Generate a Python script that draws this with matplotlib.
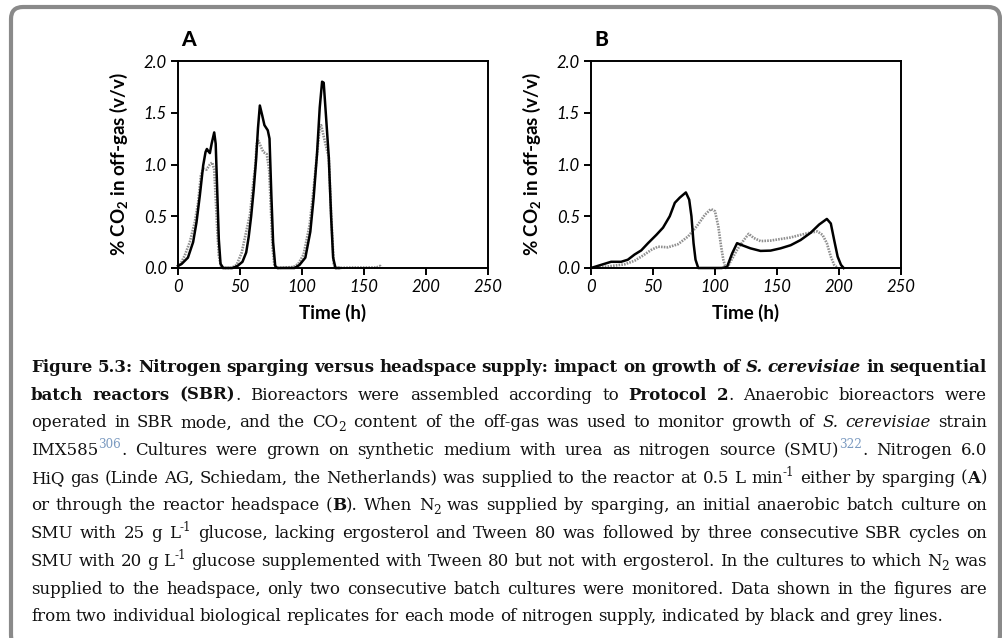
import matplotlib
matplotlib.use('Agg')
import matplotlib.pyplot as plt
from matplotlib.patches import FancyBboxPatch

plt.rcParams['mathtext.default'] = 'regular'

# ---- data (time in h, % CO2 in off-gas) ----
a_black = [(0, 0.02), (3, 0.04), (8, 0.1), (12.2, 0.25), (14.9, 0.44), (17.6, 0.7), (20.3, 0.99),
           (22.2, 1.12), (23.3, 1.15), (24.4, 1.13), (25.7, 1.11), (27.1, 1.2), (29.2, 1.31),
           (30.4, 1.2), (31.6, 0.76), (32.9, 0.28), (34.3, 0.04), (36.5, 0.0), (44, 0.0),
           (48, 0.02), (52, 0.06), (55, 0.15), (57, 0.3), (59, 0.5), (61, 0.75), (63, 1.05),
           (64.5, 1.35), (66, 1.57), (68, 1.47), (69.7, 1.38), (72.4, 1.33), (73.8, 1.25),
           (75.3, 0.7), (76.7, 0.25), (78.4, 0.02), (80, 0.0), (94, 0.0), (98, 0.03),
           (102.7, 0.1), (106.7, 0.35), (109.4, 0.68), (112.1, 1.1), (114.3, 1.55), (116.2, 1.8),
           (117.5, 1.79), (119.4, 1.46), (121.6, 1.07), (123.5, 0.49), (125.1, 0.1), (127, 0.0),
           (130, 0.0)]
a_grey = [(0, 0.01), (1.3, 0.02), (5.4, 0.12), (9.5, 0.25), (13.5, 0.44), (16.2, 0.63), (18.4, 0.89),
          (20.3, 0.96), (23, 0.95), (25.7, 1.0), (27.6, 1.02), (29.2, 0.95), (30.3, 0.7),
          (31.6, 0.38), (32.9, 0.12), (34.6, 0.02), (36, 0.0), (43, 0.0), (47.3, 0.03),
          (51.4, 0.15), (55, 0.35), (58.1, 0.52), (60.5, 0.8), (62.2, 0.97), (63.5, 1.2),
          (64.8, 1.23), (66.9, 1.17), (68.9, 1.12), (71.6, 1.1), (73.5, 0.95), (74.8, 0.6),
          (76.2, 0.2), (77.8, 0.02), (80, 0.0), (93.2, 0.01), (97, 0.04), (101.3, 0.13),
          (106.2, 0.42), (109.4, 0.77), (112.1, 1.1), (114.3, 1.36), (115.4, 1.38), (118.9, 1.2),
          (121.6, 1.07), (123.5, 0.52), (125.6, 0.04), (127, 0.0), (140, 0.005), (160, 0.005),
          (163, 0.02), (164, 0.005)]
b_black = [(0, 0.0), (8.1, 0.03), (16.2, 0.06), (24.3, 0.06), (29.7, 0.08), (35.1, 0.13),
           (40.5, 0.17), (46, 0.24), (52.7, 0.32), (58.1, 0.39), (63.5, 0.5), (67.6, 0.63),
           (71.6, 0.68), (76.5, 0.73), (79.2, 0.66), (81, 0.5), (82.7, 0.24), (84.3, 0.08),
           (86.5, 0.0), (105.4, 0.0), (109.7, 0.01), (113.8, 0.14), (117.8, 0.24), (121.9, 0.22),
           (128.6, 0.19), (136.7, 0.165), (144.8, 0.168), (152.9, 0.19), (161, 0.22), (169, 0.27),
           (177.1, 0.34), (184, 0.42), (190.2, 0.474), (193.4, 0.43), (196.1, 0.27),
           (198.9, 0.11), (201.6, 0.03), (203.8, 0.0)]
b_grey = [(0, 0.0), (13.5, 0.015), (27, 0.035), (35.1, 0.07), (41.9, 0.12), (48.6, 0.175),
          (54, 0.206), (62.1, 0.2), (70.2, 0.23), (78.3, 0.305), (85.1, 0.4), (91.9, 0.515),
          (96.7, 0.57), (100, 0.548), (102.7, 0.4), (104.9, 0.21), (106.7, 0.08), (108.6, 0.0),
          (110, 0.0), (112.4, 0.06), (117.8, 0.175), (123.2, 0.27), (127.2, 0.33), (131.3, 0.29),
          (136.7, 0.26), (144.8, 0.265), (152.9, 0.28), (161, 0.295), (169, 0.32), (177.1, 0.343),
          (182.6, 0.353), (186.7, 0.32), (190.2, 0.24), (193.4, 0.11), (196.1, 0.03), (198.9, 0.0)]

x_ticks = [0, 50, 100, 150, 200, 250]
y_ticks = [0.0, 0.5, 1.0, 1.5, 2.0]
panel_letters = ['A', 'B']
x_label = 'Time (h)'
y_label = '% CO$_2$ in off-gas (v/v)'

caption = [
    [("Figure 5.3: Nitrogen sparging versus headspace supply: impact on growth of ", "b"),
     ("S. cerevisiae", "bi"), (" in sequential", "b")],
    [("batch reactors (SBR)", "b"), (". Bioreactors were assembled according to ", "n"),
     ("Protocol 2", "b"), (".  Anaerobic bioreactors were", "n")],
    [("operated in SBR mode, and the CO", "n"), ("2", "sub"),
     (" content of the off-gas was used to monitor growth of ", "n"), ("S. cerevisiae", "i"),
     (" strain", "n")],
    [("IMX585", "n"), ("306", "cite"),
     (". Cultures were grown on synthetic medium with urea as nitrogen source (SMU)", "n"),
     ("322", "cite"), (". Nitrogen 6.0", "n")],
    [("HiQ gas (Linde AG, Schiedam, the Netherlands) was supplied to the reactor at 0.5 L min", "n"),
     ("-1", "sup"), (" either by sparging (", "n"), ("A", "b"), (")", "n")],
    [("or through the reactor headspace (", "n"), ("B", "b"), ("). When N", "n"), ("2", "sub"),
     (" was supplied by sparging, an initial anaerobic batch culture on", "n")],
    [("SMU with 25 g L", "n"), ("-1", "sup"),
     (" glucose, lacking ergosterol and Tween 80 was followed by three consecutive SBR cycles on", "n")],
    [("SMU with 20 g L", "n"), ("-1", "sup"),
     (" glucose supplemented with Tween 80 but not with ergosterol. In the cultures to which N", "n"),
     ("2", "sub"), (" was", "n")],
    [("supplied to the headspace, only two consecutive batch cultures were monitored. Data shown in the figures are", "n")],
    [("from two individual biological replicates for each mode of nitrogen supply, indicated by black and grey lines.", "n")],
]

W, H = 1003, 638
fig = plt.figure(figsize=(W / 100, H / 100), dpi=100)

# background axes in pixel units for the frame and caption
bg = fig.add_axes([0, 0, 1, 1], zorder=-1)
bg.set_xlim(0, W)
bg.set_ylim(H, 0)
bg.axis('off')
bg.add_patch(FancyBboxPatch((11, 7), 989, 640, boxstyle="round,pad=0,rounding_size=12",
                            ec='#8a8a8a', fc='white', lw=3))

tick_font = dict(family=['Lato', 'DejaVu Sans'], style='italic', size=12, color='black')
lab_font = dict(family=['Lato', 'DejaVu Sans'], weight='bold', size=13.5)

panels = [(a_black, a_grey, 178), (b_black, b_grey, 591)]
for k, (blk, gry, left) in enumerate(panels):
    ax = fig.add_axes([left / W, 1 - 268 / H, 310 / W, 207 / H])
    ax.plot([p[0] for p in gry], [p[1] for p in gry], color='#8f8f8f', lw=1.9,
            ls=(0, (0.6, 0.45)), clip_on=False)
    ax.plot([p[0] for p in blk], [p[1] for p in blk], color='black', lw=1.8, clip_on=False)
    ax.set_xlim(0, 250)
    ax.set_ylim(0, 2.0)
    ax.set_xticks(x_ticks)
    ax.set_yticks(y_ticks)
    ax.set_xticklabels([str(v) for v in x_ticks], **tick_font)
    ax.set_yticklabels(['%.1f' % v for v in y_ticks], **tick_font)
    ax.tick_params(direction='out', length=5, width=1.4, pad=3)
    for s in ax.spines.values():
        s.set_linewidth(1.4)
    ax.set_xlabel(x_label, labelpad=6, **lab_font)
    ax.set_ylabel(y_label, labelpad=10, **lab_font)
    ax.text(0.01, 1.06, panel_letters[k], transform=ax.transAxes,
            family=['Lato', 'DejaVu Sans'], weight='black', size=15, va='bottom')

# caption, justified like the book layout
cap_x0, cap_x1 = 31, 987
cap_y0, cap_dy = 372, 27.7
fs = 12.0
styles = {
    'n': dict(),
    'b': dict(fontweight='bold'),
    'i': dict(fontstyle='italic'),
    'bi': dict(fontweight='bold', fontstyle='italic'),
    'sub': dict(fontsize=fs * 0.72),
    'sup': dict(fontsize=fs * 0.72),
    'cite': dict(fontsize=fs * 0.72, color='#7b9ac0'),
}
shift = {'sub': 4, 'sup': -7, 'cite': -7}

renderer = fig.canvas.get_renderer()
for i, segs in enumerate(caption):
    y = cap_y0 + i * cap_dy
    words = [[]]
    for txt, st in segs:
        for j, part in enumerate(txt.split(' ')):
            if j > 0:
                words.append([])
            if part:
                words[-1].append((part, st))
    words = [w for w in words if w]
    rows = []
    total = 0
    for w in words:
        row = []
        for part, st in w:
            kw = dict(family='DejaVu Serif', fontsize=fs, va='baseline', ha='left', color='#111111')
            kw.update(styles[st])
            t = bg.text(0, y, part, **kw)
            wd = t.get_window_extent(renderer).width
            row.append((t, wd, st))
            total += wd
        rows.append(row)
    if i < len(caption) - 1:
        gap = (cap_x1 - cap_x0 - total) / (len(rows) - 1)
    else:
        gap = 0.3 * fs * 100 / 72
    x = cap_x0
    for row in rows:
        for t, wd, st in row:
            t.set_position((x, y + shift.get(st, 0)))
            x += wd
        x += gap

fig.savefig('out.png', dpi=100)
